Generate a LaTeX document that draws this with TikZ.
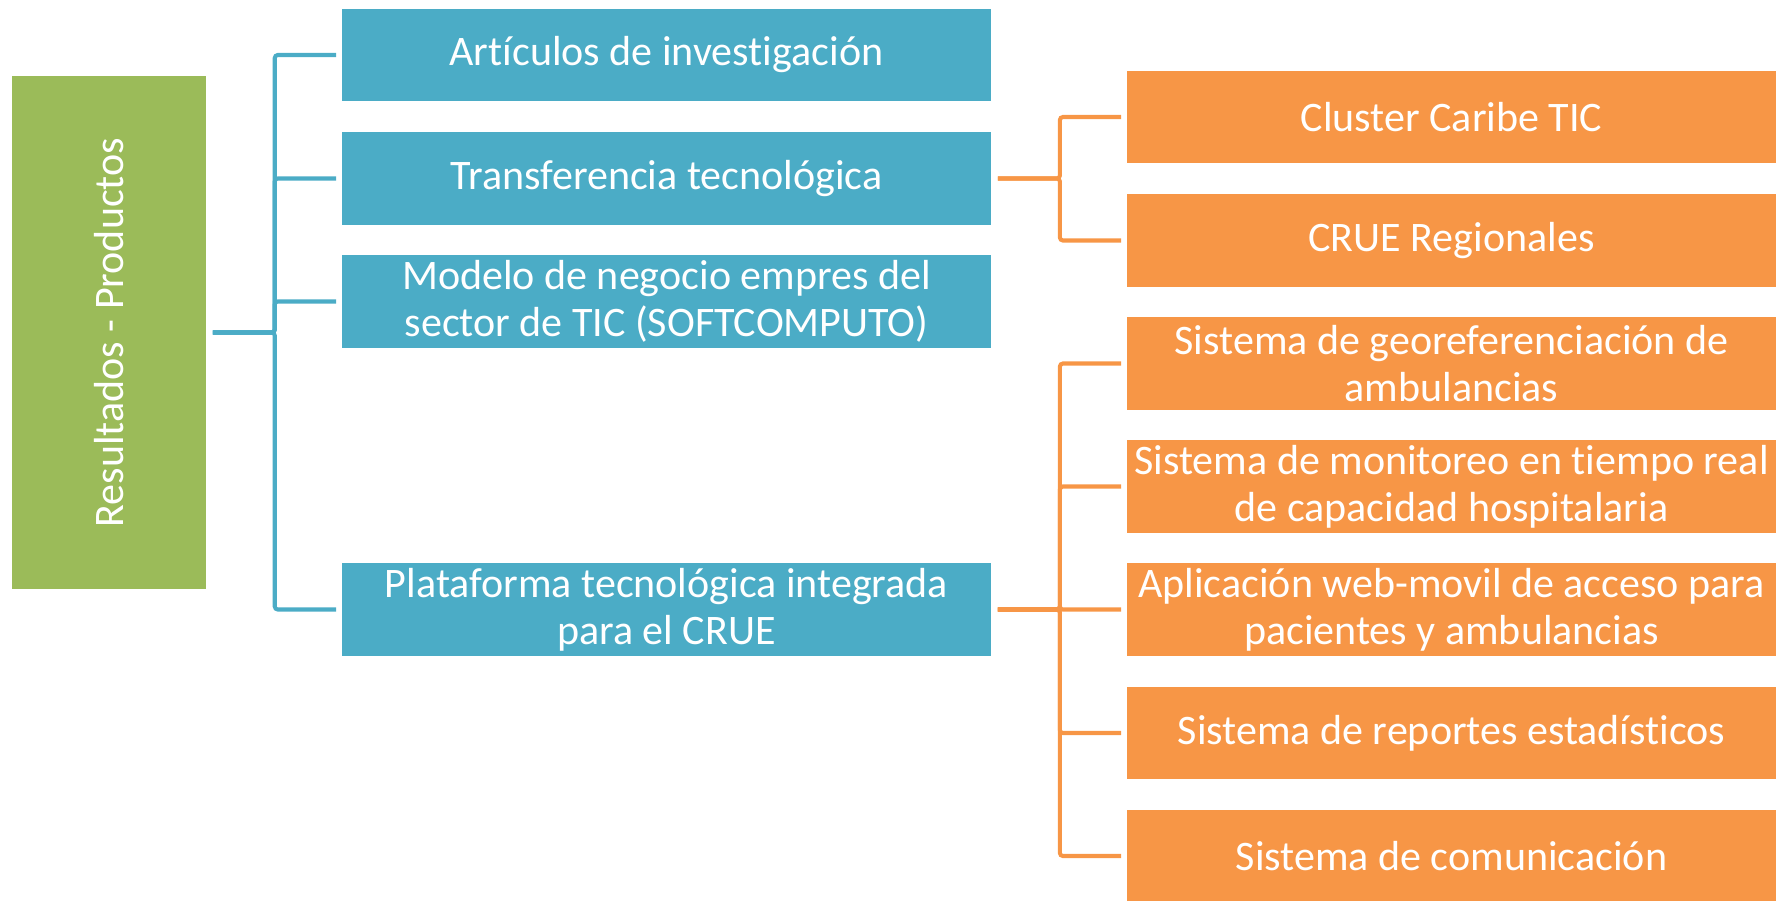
\documentclass[tikz,border=0pt]{standalone}
\usepackage{fontspec}
\setmainfont{Carlito}[Ligatures=NoCommon]

\definecolor{resgreen}{HTML}{9BBB59}
\definecolor{prodblue}{HTML}{4BACC6}
\definecolor{suborange}{HTML}{F79646}

\tikzset{
    itembox/.style={fill=#1, text=white, inner sep=0pt, align=center,
        minimum width=6.49cm, minimum height=0.92cm,
        font=\fontsize{11.95}{13.4}\selectfont},
    link/.style={draw=#1, line width=1.15pt, rounded corners=0.03cm,
        shorten <=0.06cm, shorten >=0.05cm}
}

\begin{document}
\begin{tikzpicture}[x=0.01cm, y=-0.01cm]
            \useasboundingbox (0, 0) rectangle (1789, 900);

            \node[itembox=resgreen, rotate=90, minimum width=5.13cm, minimum height=1.94cm] (res) at (109, 332.5) {Resultados - Productos};

            \node[itembox=prodblue] (art) at (666.5, 55) {Artículos de investigación};

            \node[itembox=prodblue] (tra) at (666.5, 178.5) {Transferencia tecnológica};

            \node[itembox=prodblue] (mod) at (666.5, 301.5) {Modelo de negocio empres del\\sector de TIC (SOFTCOMPUTO)};

            \node[itembox=prodblue] (pla) at (666.5, 609.5) {Plataforma tecnológica integrada\\para el CRUE};

            \node[itembox=suborange] (clu) at (1451.5, 117) {Cluster Caribe TIC};

            \node[itembox=suborange] (cru) at (1451.5, 240.5) {CRUE Regionales};

            \node[itembox=suborange] (geo) at (1451.5, 363.5) {Sistema de georeferenciación de\\ambulancias};

            \node[itembox=suborange] (mon) at (1451.5, 486.5) {Sistema de monitoreo en tiempo real\\de capacidad hospitalaria};

            \node[itembox=suborange] (app) at (1451.5, 609.5) {Aplicación web-movil de acceso para\\pacientes y ambulancias};

            \node[itembox=suborange] (rep) at (1451.5, 733) {Sistema de reportes estadísticos};

            \node[itembox=suborange] (com) at (1451.5, 856) {Sistema de comunicación};

            % results to products
            \foreach \p in {art, tra, mod, pla}
                \draw[link=prodblue] (res.south) -- ++(68, 0) |- (\p.west);

            % transfer
            \foreach \s in {clu, cru}
                \draw[link=suborange] (tra.east) -- ++(68, 0) |- (\s.west);

            % platform
            \foreach \s in {geo, mon, app, rep, com}
                \draw[link=suborange] (pla.east) -- ++(68, 0) |- (\s.west);
        \end{tikzpicture}
\end{document}
